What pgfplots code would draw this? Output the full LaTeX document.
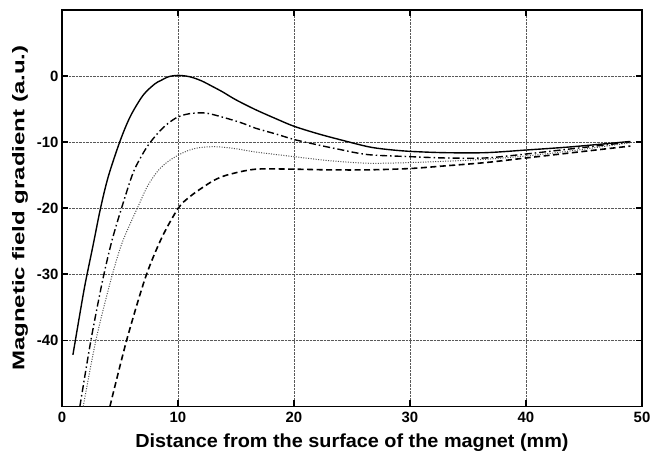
\documentclass[border=0pt]{standalone}
\usepackage{fontspec}
\setmainfont{Liberation Sans}
\usepackage{pgfplots}
\pgfplotsset{compat=1.18}

\begin{document}
\begin{tikzpicture}
  \begin{axis}[
    name=ax,
    scale only axis, width=581bp, height=397bp,
    xmin=0, xmax=50, ymin=-50, ymax=10,
    xtick={0,10,20,30,40,50},
    ytick={-40,-30,-20,-10,0},
    tick align=inside, major tick length=6bp,
    tick style={line width=1.6pt, black},
    axis line style={line width=1.6pt},
    grid=major,
    grid style={densely dotted, line width=0.6pt, black!65},
    /pgf/number format/assume math mode=true,
    ticklabel style={font=\fontsize{15}{17}\selectfont\bfseries},
    xticklabel style={yshift=-2.5bp},
    xlabel={\scalebox{1.05}[1]{Distance from the surface of the magnet (mm)}},
    ylabel={\scalebox{1.42}[1]{Magnetic field gradient (a.u.)}},
    xlabel style={font=\fontsize{19}{21}\selectfont\bfseries, yshift=-4.5bp},
    ylabel style={font=\fontsize{17}{19}\selectfont\bfseries, yshift=2bp},
    every axis plot/.append style={smooth, black},
  ]
    % solid
    \addplot [line width=1.4pt] coordinates {
      (0.95,-42.2) (1.5,-36.5) (2,-31.5) (2.7,-25.5) (3.33,-20) (4,-15.2)
      (5,-9.9) (5.9,-6.1) (7,-2.9) (8,-1.2) (8.5,-0.7) (9.2,-0.1) (10,0.1)
      (11,-0.1) (12,-0.7) (13,-1.6) (13.85,-2.4) (15,-3.6) (16.7,-5.1)
      (18.5,-6.5) (20,-7.6) (22,-8.7) (23.9,-9.6) (26.4,-10.7) (28,-11.1)
      (30,-11.4) (33,-11.6) (36.5,-11.6) (40,-11.2) (44,-10.7) (49,-9.9)};
    % dash-dot
    \addplot [line width=1.4pt, dash pattern=on 7bp off 3bp on 1.5bp off 3bp] coordinates {
      (1.55,-50) (2.5,-40) (3.5,-31) (4.3,-25) (5.14,-20) (6.1,-14.8)
      (6.8,-12.3) (7.5,-10.3) (8.45,-8.3) (9.2,-7.1) (10,-6.2) (11,-5.7)
      (12.4,-5.6) (14,-6.3) (15.5,-7.1) (16.7,-7.9) (18.5,-8.8) (20,-9.6)
      (22,-10.4) (23.9,-11.1) (26.4,-11.9) (30,-12.2) (33,-12.4)
      (36.5,-12.4) (40,-11.8) (44,-11) (49,-10)};
    % dotted
    \addplot [line width=1pt, black!70, dash pattern=on 1bp off 1.5bp] coordinates {
      (1.84,-50) (2.93,-40) (4.2,-31) (5.2,-25.2) (6.5,-20) (7.4,-16.6)
      (8.3,-14.3) (9.1,-13) (10,-12) (11,-11.2) (12,-10.8) (13.3,-10.7)
      (15,-11) (16.7,-11.5) (20,-12.2) (23,-12.8) (26.4,-13.2) (30,-13.1)
      (33,-12.9) (36.5,-12.6) (40,-12.1) (44,-11.3) (49,-10.1)};
    % dashed
    \addplot [line width=1.6pt, dash pattern=on 6bp off 3.5bp] coordinates {
      (4.14,-50) (5.58,-40) (7.2,-30.5) (8.6,-24.5) (10.03,-20) (11,-18.3)
      (12.1,-16.9) (13.2,-15.7) (14.4,-14.9) (16.7,-14.1) (20,-14.1)
      (23,-14.2) (26.4,-14.2) (30,-14.0) (33,-13.6) (36.5,-13.1)
      (40,-12.4) (44,-11.6) (49,-10.6)};
  \end{axis}
  \pgfresetboundingbox
  \path ([shift={(-62bp,-47bp)}]ax.south west) rectangle ([shift={(9bp,10bp)}]ax.north east);
\end{tikzpicture}
\end{document}
